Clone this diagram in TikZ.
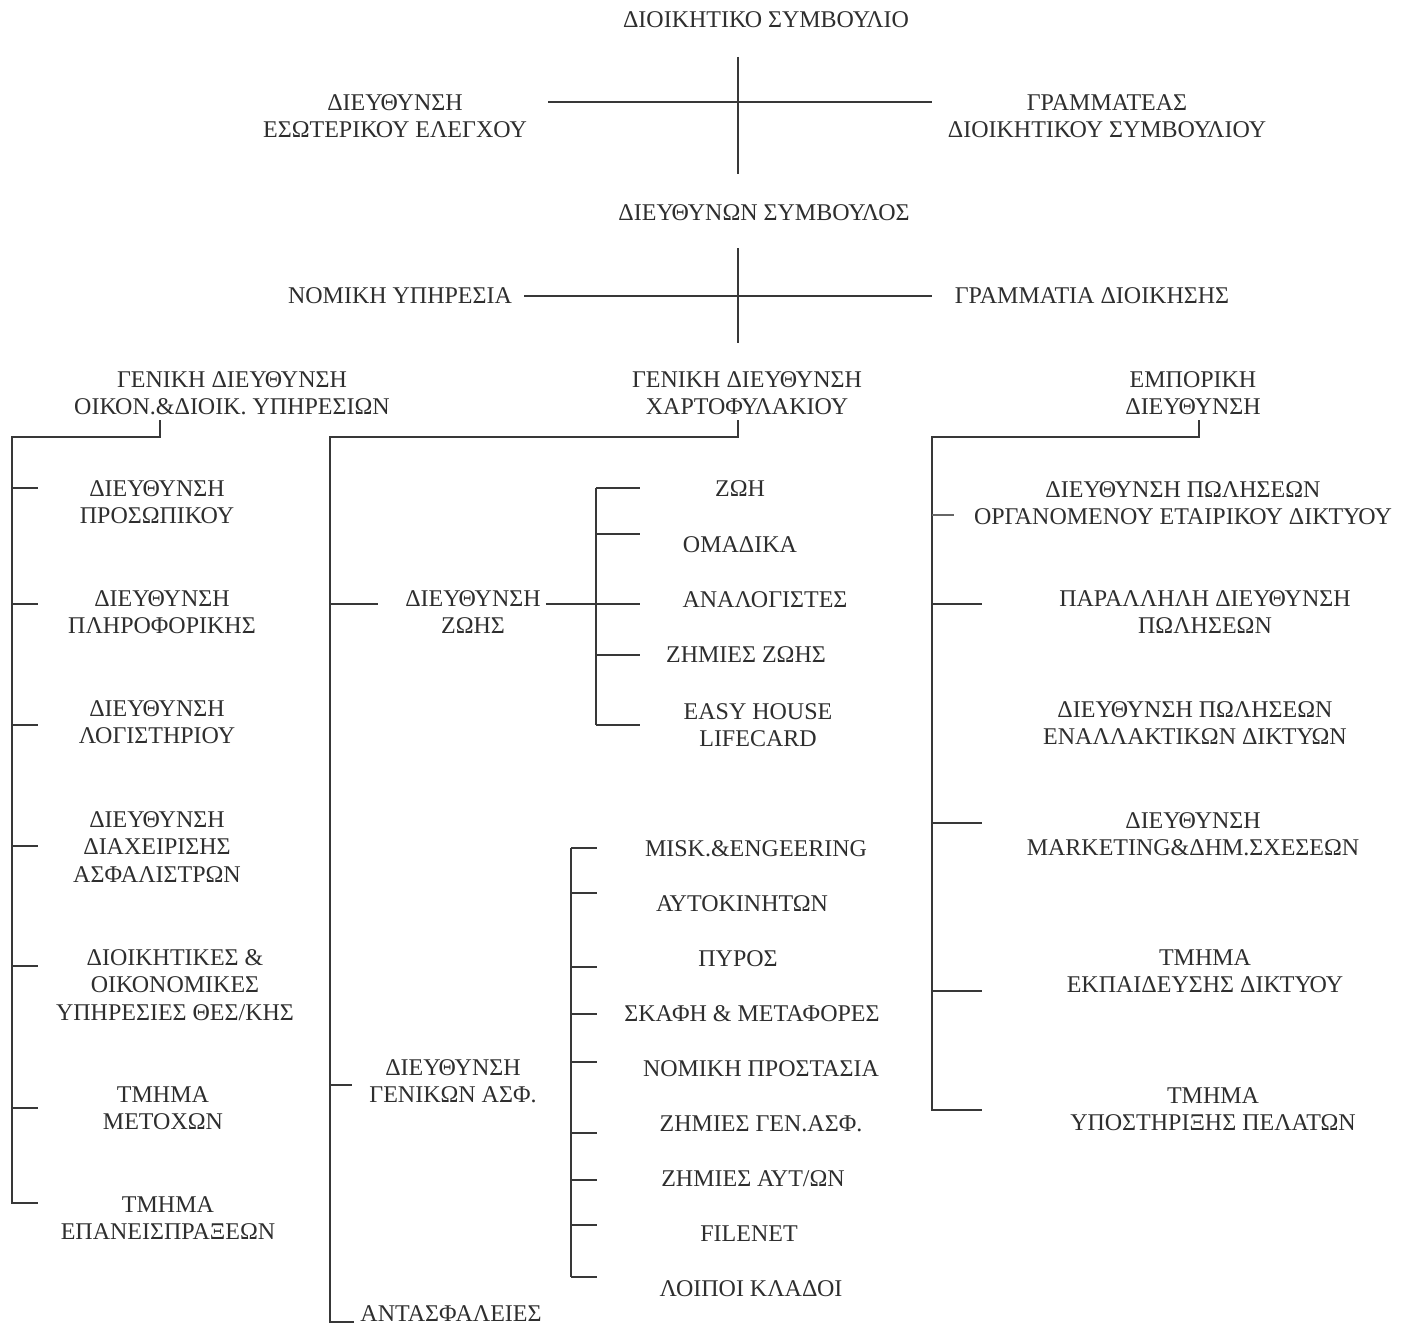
\documentclass[tikz,border=0pt]{standalone}
\usepackage{fontspec}
\setmainfont{Liberation Serif}
\begin{document}
\begin{tikzpicture}[x=1pt,y=-1pt,
  lbl/.style={font=\fontsize{24}{27.5}\selectfont, align=center, inner sep=0pt, text=black!82},
  ln/.style={line width=2.2pt, draw=black!78},
  thinln/.style={line width=1.2pt, draw=black!60}]
\useasboundingbox[fill=white] (0,0) rectangle (1419,1327);

% ---------- top levels ----------
\node[lbl] (board) at (766,20) {ΔΙΟΙΚΗΤΙΚΟ ΣΥΜΒΟΥΛΙΟ};
\node[lbl] (audit) at (395,116) {ΔΙΕΥΘΥΝΣΗ\\ΕΣΩΤΕΡΙΚΟΥ ΕΛΕΓΧΟΥ};
\node[lbl] (secb) at (1107,116) {ΓΡΑΜΜΑΤΕΑΣ\\ΔΙΟΙΚΗΤΙΚΟΥ ΣΥΜΒΟΥΛΙΟΥ};
\node[lbl] (ceo) at (764,213) {ΔΙΕΥΘΥΝΩΝ ΣΥΜΒΟΥΛΟΣ};
\node[lbl] (legal) at (400,296) {ΝΟΜΙΚΗ ΥΠΗΡΕΣΙΑ};
\node[lbl] (accts) at (1092,296) {ΓΡΑΜΜΑΤΙΑ ΔΙΟΙΚΗΣΗΣ};

\coordinate (bA) at (738,57);  \coordinate (bB) at (738,174);
\coordinate (hA) at (548,102); \coordinate (hB) at (932,102);
\draw[ln] (bA) -- (bB);
\draw[ln] (hA) -- (hB);
\coordinate (cA) at (738,248); \coordinate (cB) at (738,343);
\coordinate (kA) at (524,296); \coordinate (kB) at (932,296);
\draw[ln] (cA) -- (cB);
\draw[ln] (kA) -- (kB);

% ---------- general directorates ----------
\node[lbl] (gdA) at (232,393) {ΓΕΝΙΚΗ ΔΙΕΥΘΥΝΣΗ\\ΟΙΚΟΝ.\&ΔΙΟΙΚ. ΥΠΗΡΕΣΙΩΝ};
\node[lbl] (gdB) at (747,393) {ΓΕΝΙΚΗ ΔΙΕΥΘΥΝΣΗ\\ΧΑΡΤΟΦΥΛΑΚΙΟΥ};
\node[lbl] (comm) at (1193,393) {ΕΜΠΟΡΙΚΗ\\ΔΙΕΥΘΥΝΣΗ};

% ---------- left column ----------
\node[lbl] (l1) at (157,502) {ΔΙΕΥΘΥΝΣΗ\\ΠΡΟΣΩΠΙΚΟΥ};
\node[lbl] (l2) at (162,612) {ΔΙΕΥΘΥΝΣΗ\\ΠΛΗΡΟΦΟΡΙΚΗΣ};
\node[lbl] (l3) at (157,722) {ΔΙΕΥΘΥΝΣΗ\\ΛΟΓΙΣΤΗΡΙΟΥ};
\node[lbl] (l4) at (157,847) {ΔΙΕΥΘΥΝΣΗ\\ΔΙΑΧΕΙΡΙΣΗΣ\\ΑΣΦΑΛΙΣΤΡΩΝ};
\node[lbl] (l5) at (175,985) {ΔΙΟΙΚΗΤΙΚΕΣ \&\\ΟΙΚΟΝΟΜΙΚΕΣ\\ΥΠΗΡΕΣΙΕΣ ΘΕΣ/ΚΗΣ};
\node[lbl] (l6) at (163,1108) {ΤΜΗΜΑ\\ΜΕΤΟΧΩΝ};
\node[lbl] (l7) at (168,1218) {ΤΜΗΜΑ\\ΕΠΑΝΕΙΣΠΡΑΞΕΩΝ};

\coordinate (gA1) at (160,420);
\coordinate (gA2) at (12,437);
\coordinate (gA3) at (12,1203);
\draw[ln] (gA1) |- (gA2) -- (gA3) -- ++(26,0);
\foreach \y in {488,604,725,846,966,1108}
  \draw[ln] (12,\y) -- ++(26,0);

% ---------- middle column ----------
\node[lbl] (life) at (473,612) {ΔΙΕΥΘΥΝΣΗ\\ΖΩΗΣ};
\node[lbl] (gen)  at (453,1081) {ΔΙΕΥΘΥΝΣΗ\\ΓΕΝΙΚΩΝ ΑΣΦ.};
\node[lbl] (reins) at (451,1314) {ΑΝΤΑΣΦΑΛΕΙΕΣ};

\coordinate (gB1) at (738,420);
\coordinate (gB2) at (330,437);
\coordinate (gB3) at (330,1322);
\draw[ln] (gB1) |- (gB2) -- (gB3) -- ([xshift=-6pt]reins.west |- gB3);
\draw[ln] (330,604) -- (378,604);
\draw[ln] (330,1085) -- (352,1085);

% life sub-branches
\node[lbl] (z1) at (740,489) {ΖΩΗ};
\node[lbl] (z2) at (740,545) {ΟΜΑΔΙΚΑ};
\node[lbl] (z3) at (765,600) {ΑΝΑΛΟΓΙΣΤΕΣ};
\node[lbl] (z4) at (746,655) {ΖΗΜΙΕΣ ΖΩΗΣ};
\node[lbl] (z5) at (758,725) {EASY HOUSE\\LIFECARD};

\draw[ln] (life.east |- 0,604) ++(5,0) -- (640,604);
\draw[ln] (596,488) -- (596,725);
\foreach \y in {488,534,655,725}
  \draw[ln] (596,\y) -- (640,\y);

% general insurance sub-branches
\node[lbl] (g1) at (756,849) {MISK.\&ENGEERING};
\node[lbl] (g2) at (742,904) {ΑΥΤΟΚΙΝΗΤΩΝ};
\node[lbl] (g3) at (738,959) {ΠΥΡΟΣ};
\node[lbl] (g4) at (752,1014) {ΣΚΑΦΗ \& ΜΕΤΑΦΟΡΕΣ};
\node[lbl] (g5) at (761,1069) {ΝΟΜΙΚΗ ΠΡΟΣΤΑΣΙΑ};
\node[lbl] (g6) at (761,1124) {ΖΗΜΙΕΣ ΓΕΝ.ΑΣΦ.};
\node[lbl] (g7) at (753,1179) {ΖΗΜΙΕΣ ΑΥΤ/ΩΝ};
\node[lbl] (g8) at (749,1234) {FILENET};
\node[lbl] (g9) at (751,1289) {ΛΟΙΠΟΙ ΚΛΑΔΟΙ};

\draw[ln] (571,848) -- (571,1277);
\foreach \y in {848,893,967,1014,1062,1133,1180,1225,1277}
  \draw[ln] (571,\y) -- (597,\y);

% ---------- right column ----------
\node[lbl] (r1) at (1183,503) {ΔΙΕΥΘΥΝΣΗ ΠΩΛΗΣΕΩΝ\\ΟΡΓΑΝΟΜΕΝΟΥ ΕΤΑΙΡΙΚΟΥ ΔΙΚΤΥΟΥ};
\node[lbl] (r2) at (1205,612) {ΠΑΡΑΛΛΗΛΗ ΔΙΕΥΘΥΝΣΗ\\ΠΩΛΗΣΕΩΝ};
\node[lbl] (r3) at (1195,723) {ΔΙΕΥΘΥΝΣΗ ΠΩΛΗΣΕΩΝ\\ΕΝΑΛΛΑΚΤΙΚΩΝ ΔΙΚΤΥΩΝ};
\node[lbl] (r4) at (1193,834) {ΔΙΕΥΘΥΝΣΗ\\MARKETING\&ΔΗΜ.ΣΧΕΣΕΩΝ};
\node[lbl] (r5) at (1205,971) {ΤΜΗΜΑ\\ΕΚΠΑΙΔΕΥΣΗΣ ΔΙΚΤΥΟΥ};
\node[lbl] (r6) at (1213,1109) {ΤΜΗΜΑ\\ΥΠΟΣΤΗΡΙΞΗΣ ΠΕΛΑΤΩΝ};

\coordinate (gC1) at (1199,420);
\coordinate (gC2) at (932,437);
\coordinate (gC3) at (932,1110);
\draw[ln] (gC1) |- (gC2) -- (gC3) -- ++(50,0);
\draw[thinln] (932,515) -- ++(22,0);
\foreach \y in {604,823,991}
  \draw[ln] (932,\y) -- ++(50,0);
\end{tikzpicture}
\end{document}
